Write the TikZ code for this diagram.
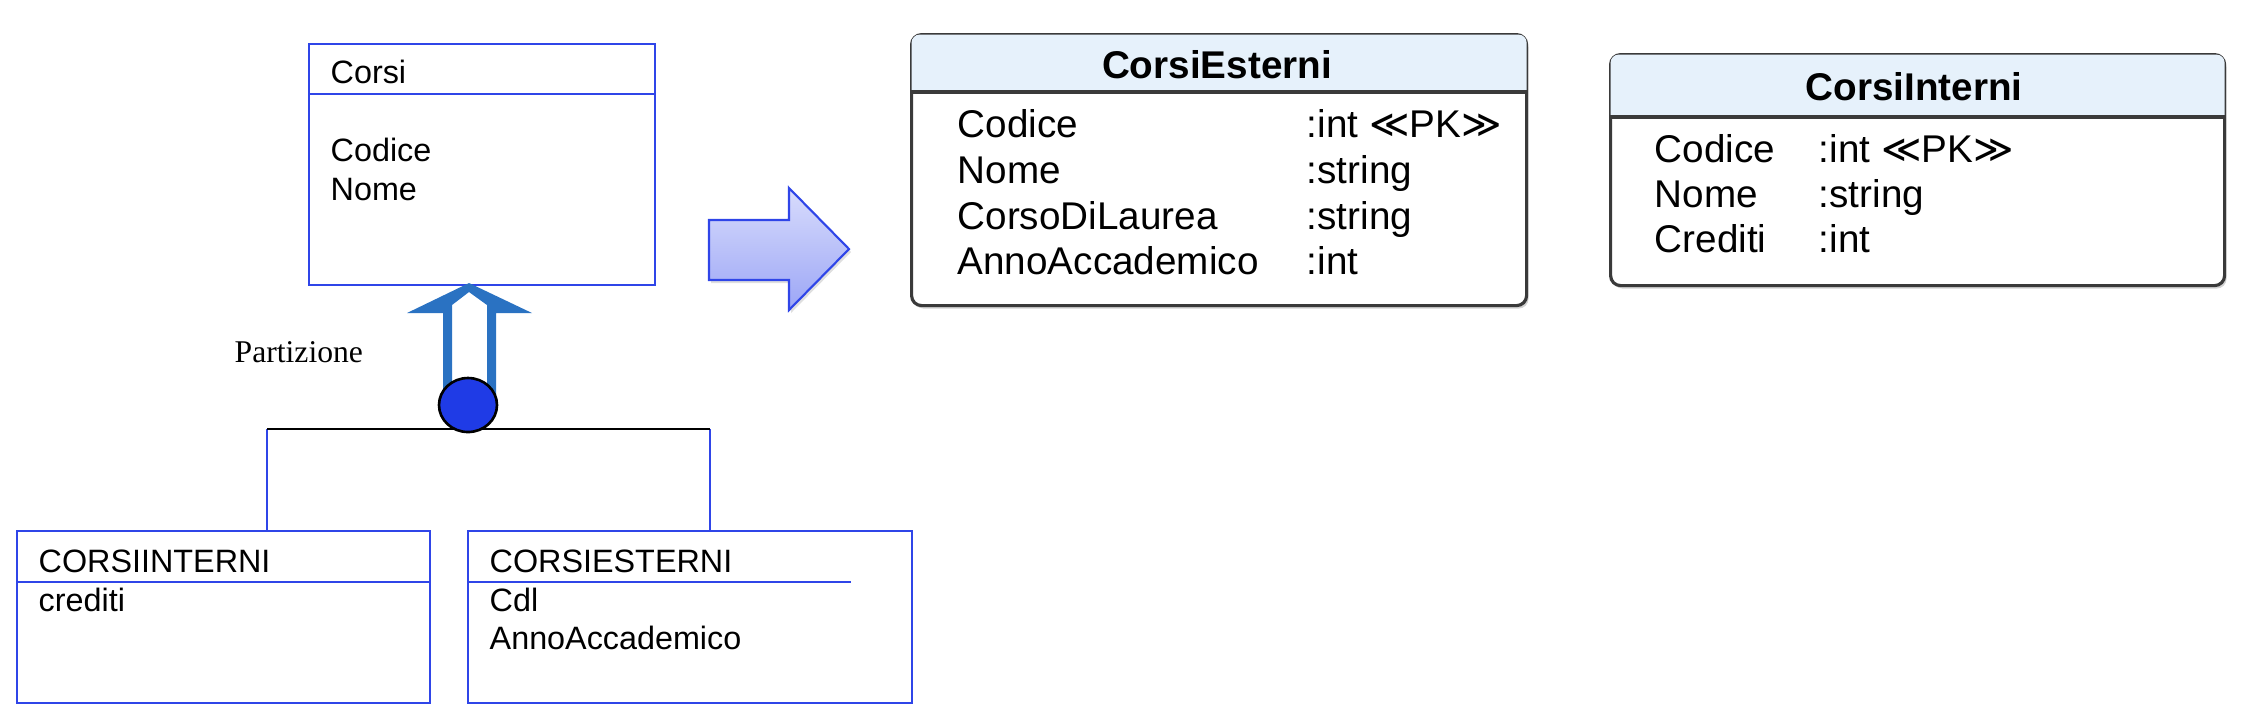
\documentclass[tikz,border=0pt]{standalone}
\usepackage{fontspec}
\setmainfont{Liberation Sans}
\newfontfamily\serifpart{Liberation Serif}
\newfontfamily\symbfont{DejaVu Sans}
\usetikzlibrary{shapes,arrows.meta,positioning,calc,shadows}
\definecolor{erblue}{HTML}{2F45E8}
\definecolor{isablue}{HTML}{2A72C2}
\definecolor{discblue}{HTML}{1F3BE6}
\definecolor{tabhead}{HTML}{E6F1FB}
\definecolor{tabline}{HTML}{3A3A3A}
\definecolor{arrtop}{HTML}{D8DCFC}
\definecolor{arrbot}{HTML}{9CA6F6}
\newcommand{\pkmark}{{\symbfont ≪}PK{\symbfont ≫}}

\begin{document}
\begin{tikzpicture}[
    erbox/.style={draw=erblue, line width=0.6pt, anchor=north west, inner sep=0pt},
    ertext/.style={anchor=base west, inner sep=0pt, font=\fontsize{9.2}{11}\selectfont},
    tabbox/.style={draw=tabline, line width=0.9pt, fill=white, rounded corners=0.1cm,
        anchor=north west, inner sep=0pt,
        drop shadow={shadow xshift=0.02cm, shadow yshift=-0.03cm, opacity=0.35}},
    tabtitle/.style={anchor=base, inner sep=0pt, font=\fontsize{11}{13}\selectfont\bfseries},
    tabtext/.style={anchor=base west, inner sep=0pt, font=\fontsize{11}{13}\selectfont}
]
    \useasboundingbox (0,0) rectangle (22.52,-7.26);

    % Corsi entity
    \node[erbox, minimum width=3.46cm, minimum height=2.41cm] (corsi) at (3.08,-0.43) {};
    \draw[erblue, line width=0.6pt] ([yshift=-0.51cm]corsi.north west) -- ([yshift=-0.51cm]corsi.north east);
    \node[ertext] (corsi-name) at (3.30,-0.83) {Corsi};
    \node[ertext] (corsi-codice) at (3.30,-1.61) {Codice};
    \node[ertext] (corsi-nome) at (3.30,-2.00) {Nome};

    % child entities
    \node[erbox, minimum width=4.13cm, minimum height=1.72cm] (interni) at (0.16,-5.30) {};
    \draw[erblue, line width=0.6pt] ([yshift=-0.52cm]interni.north west) -- ([yshift=-0.52cm]interni.north east);
    \node[ertext] (interni-name) at (0.38,-5.72) {CORSIINTERNI};
    \node[ertext] (interni-crediti) at (0.38,-6.11) {crediti};

    \node[erbox, minimum width=4.44cm, minimum height=1.72cm] (esterniER) at (4.67,-5.30) {};
    \draw[erblue, line width=0.6pt] ([yshift=-0.52cm]esterniER.north west) -- ++(3.84,0);
    \node[ertext] (esterniER-name) at (4.89,-5.72) {CORSIESTERNI};
    \node[ertext] (esterniER-cdl) at (4.89,-6.11) {Cdl};
    \node[ertext] (esterniER-anno) at (4.89,-6.49) {AnnoAccademico};

    % generalization
    \coordinate (hl-l) at (2.67,-4.29);
    \coordinate (hl-r) at (7.10,-4.29);
    \draw[erblue, line width=0.6pt] (hl-l) -- (hl-l |- interni.north);
    \draw[erblue, line width=0.6pt] (hl-r) -- (hl-r |- esterniER.north);
    \draw[black, line width=0.8pt] (hl-l) -- (hl-r);
    \fill[isablue] (4.43,-3.95) -- (4.43,-3.13) -- (4.07,-3.13) -- (4.69,-2.83) -- (5.32,-3.13)
        -- (4.96,-3.13) -- (4.96,-3.95) -- (4.87,-3.95) -- (4.87,-3.05) -- (4.69,-2.92)
        -- (4.52,-3.05) -- (4.52,-3.95) -- cycle;
    \node[ellipse, draw=black, fill=discblue, line width=0.75pt, inner sep=0pt,
        minimum width=0.58cm, minimum height=0.54cm] (disc) at (4.68,-4.05) {};
    \node[anchor=base west, inner sep=0pt, font=\serifpart\fontsize{9}{11}\selectfont] (partlabel) at (2.34,-3.62) {Partizione};

    % mapping arrow
    \draw[draw=erblue, line width=0.6pt, top color=arrtop, bottom color=arrbot,
        drop shadow={shadow xshift=0.02cm, shadow yshift=-0.03cm, opacity=0.25}]
        (7.09,-2.20) -- (7.89,-2.20) -- (7.89,-1.88) -- (8.49,-2.49) -- (7.89,-3.10)
        -- (7.89,-2.80) -- (7.09,-2.80) -- cycle;

    % CorsiEsterni table
    \node[tabbox, minimum width=6.15cm, minimum height=2.71cm] (esterni) at (9.10,-0.33) {};
    \begin{scope}
        \clip (esterni.north west) rectangle ([yshift=-0.59cm]esterni.north east);
        \fill[tabhead, rounded corners=0.08cm] ([shift={(0.016,-0.016)}]esterni.north west) rectangle ([shift={(-0.016,0.016)}]esterni.south east);
    \end{scope}
    \draw[tabline, line width=0.9pt] ([yshift=-0.59cm]esterni.north west) -- ([yshift=-0.59cm]esterni.north east);
    \node[tabtitle] (esterni-title) at (12.17,-0.78) {CorsiEsterni};
    \foreach \nm/\tp [count=\i] in {Codice/{:int \pkmark}, Nome/:string, CorsoDiLaurea/:string, AnnoAccademico/:int} {
        \node[tabtext] (esterni-name-\i) at (9.57,-0.92-0.457*\i) {\nm};
        \node[tabtext] (esterni-type-\i) at (13.06,-0.92-0.457*\i) {\tp};
    }

    % CorsiInterni table
    \node[tabbox, minimum width=6.14cm, minimum height=2.31cm] (internitab) at (16.09,-0.53) {};
    \begin{scope}
        \clip (internitab.north west) rectangle ([yshift=-0.64cm]internitab.north east);
        \fill[tabhead, rounded corners=0.08cm] ([shift={(0.016,-0.016)}]internitab.north west) rectangle ([shift={(-0.016,0.016)}]internitab.south east);
    \end{scope}
    \draw[tabline, line width=0.9pt] ([yshift=-0.64cm]internitab.north west) -- ([yshift=-0.64cm]internitab.north east);
    \node[tabtitle] (internitab-title) at (19.14,-1.00) {CorsiInterni};
    \foreach \nm/\tp [count=\i] in {Codice/{:int \pkmark}, Nome/:string, Crediti/:int} {
        \node[tabtext] (internitab-name-\i) at (16.54,-1.17-0.45*\i) {\nm};
        \node[tabtext] (internitab-type-\i) at (18.18,-1.17-0.45*\i) {\tp};
    }
\end{tikzpicture}
\end{document}
